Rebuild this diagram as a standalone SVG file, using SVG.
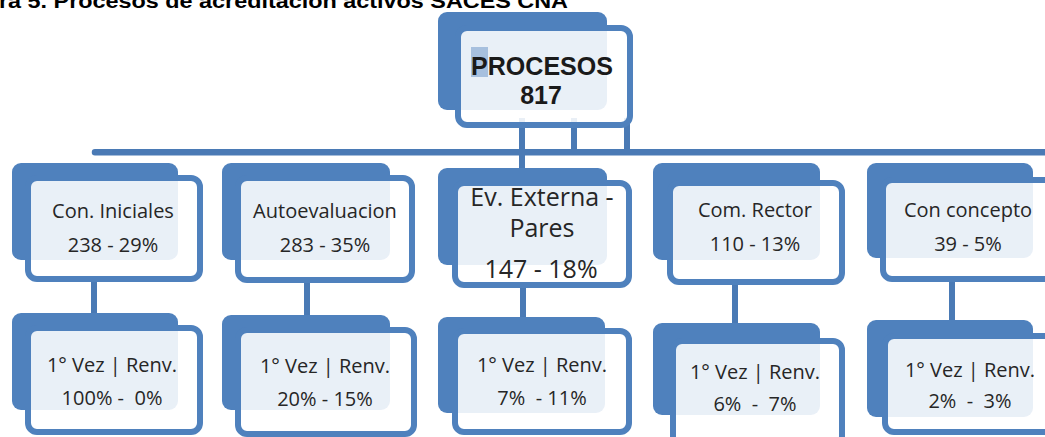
<svg xmlns="http://www.w3.org/2000/svg" width="1045" height="437" viewBox="0 0 1045 437">
<style>
.back{fill:#4f81bd;}
.front{fill:#ffffff;fill-opacity:0.88;stroke:#4f81bd;stroke-width:6;}
.conn{stroke:#4a7ab5;stroke-width:6;fill:none;}
.t{font-family:"Open Sans","Noto Sans",sans-serif;font-size:20px;fill:#262626;text-anchor:middle;}
.tb{font-family:"Open Sans","Noto Sans",sans-serif;font-size:25px;fill:#262626;text-anchor:middle;}
.top{font-family:"Liberation Sans",Arial,sans-serif;font-size:25px;font-weight:bold;fill:#1a1a1a;text-anchor:middle;}
.title{font-family:"Liberation Sans",Arial,sans-serif;font-size:21px;font-weight:bold;fill:#000;}
</style>
<rect width="1045" height="437" fill="#ffffff"/>
<text class="title" x="-1" y="8" textLength="569" lengthAdjust="spacingAndGlyphs">ra 5. Procesos de acreditación activos SACES CNA</text>
<g id="connectors">
<line class="conn" x1="522" y1="118" x2="522" y2="170"/>
<line class="conn" x1="574" y1="118" x2="574" y2="152"/>
<line class="conn" x1="627" y1="118" x2="627" y2="152"/>
<path d="M95 149 H1045 V155.5 H95 A3.25 3.25 0 0 1 95 149 Z" fill="#4a7ab5"/>
<line class="conn" x1="94" y1="278" x2="94" y2="318"/>
<line class="conn" x1="307" y1="278" x2="307" y2="318"/>
<line class="conn" x1="523" y1="284" x2="523" y2="322"/>
<line class="conn" x1="735" y1="280" x2="735" y2="326"/>
<line class="conn" x1="952" y1="278" x2="952" y2="324"/>
</g>
<g id="node-procesos">
<rect class="back" x="438" y="12" width="169" height="98" rx="9"/>
<rect class="front" x="458" y="28" width="172" height="97" rx="9"/>
<rect x="471" y="47" width="17" height="30" fill="#a7c0de"/>
<text class="top" x="542" y="75" textLength="142" lengthAdjust="spacingAndGlyphs">PROCESOS</text>
<text class="top" x="541" y="104">817</text>
</g>
<g id="node-con-iniciales">
<rect class="back" x="12" y="163" width="166" height="97" rx="9"/>
<rect class="front" x="28" y="178" width="172" height="101" rx="9"/>
<text class="t" x="113" y="218">Con. Iniciales</text>
<text class="t" x="113" y="252">238 - 29%</text>
</g>
<g id="node-autoevaluacion">
<rect class="back" x="222" y="163" width="168" height="97" rx="9"/>
<rect class="front" x="238" y="178" width="174" height="102" rx="9"/>
<text class="t" x="325" y="218">Autoevaluacion</text>
<text class="t" x="325" y="252">283 - 35%</text>
</g>
<g id="node-ev-externa">
<rect class="back" x="438" y="168" width="169" height="97" rx="9"/>
<rect class="front" x="455" y="183" width="174" height="102" rx="9"/>
<text class="tb" x="542" y="206">Ev. Externa -</text>
<text class="tb" x="542" y="237">Pares</text>
<text class="tb" x="541" y="278">147 - 18%</text>
</g>
<g id="node-com-rector">
<rect class="back" x="653" y="163" width="167" height="97" rx="9"/>
<rect class="front" x="670" y="183" width="172" height="99" rx="9"/>
<text class="t" x="755" y="217">Com. Rector</text>
<text class="t" x="755" y="251">110 - 13%</text>
</g>
<g id="node-con-concepto">
<rect class="back" x="867" y="163" width="166" height="95" rx="9"/>
<rect class="front" x="883" y="180" width="172" height="99" rx="9"/>
<text class="t" x="968" y="217">Con concepto</text>
<text class="t" x="968" y="251">39 - 5%</text>
</g>
<g id="node-vez-1">
<rect class="back" x="12" y="313" width="166" height="97" rx="9"/>
<rect class="front" x="28" y="328" width="172" height="104" rx="9"/>
<text class="t" x="112" y="372">1° Vez | Renv.</text>
<text class="t" x="112" y="405" xml:space="preserve">100% -  0%</text>
</g>
<g id="node-vez-2">
<rect class="back" x="222" y="315" width="168" height="95" rx="9"/>
<rect class="front" x="238" y="330" width="176" height="104" rx="9"/>
<text class="t" x="325" y="373">1° Vez | Renv.</text>
<text class="t" x="325" y="406">20% - 15%</text>
</g>
<g id="node-vez-3">
<rect class="back" x="438" y="317" width="167" height="96" rx="9"/>
<rect class="front" x="455" y="331" width="174" height="101" rx="9"/>
<text class="t" x="542" y="372">1° Vez | Renv.</text>
<text class="t" x="542" y="405" xml:space="preserve">7%  - 11%</text>
</g>
<g id="node-vez-4">
<rect class="back" x="653" y="323" width="167" height="92" rx="9"/>
<rect class="front" x="673" y="341" width="169" height="104" rx="9"/>
<text class="t" x="755" y="379">1° Vez | Renv.</text>
<text class="t" x="755" y="411" xml:space="preserve">6%  -  7%</text>
</g>
<g id="node-vez-5">
<rect class="back" x="867" y="320" width="166" height="97" rx="9"/>
<rect class="front" x="885" y="336" width="172" height="96" rx="9"/>
<text class="t" x="970" y="377">1° Vez | Renv.</text>
<text class="t" x="970" y="408" xml:space="preserve">2%  -  3%</text>
</g>
</svg>
